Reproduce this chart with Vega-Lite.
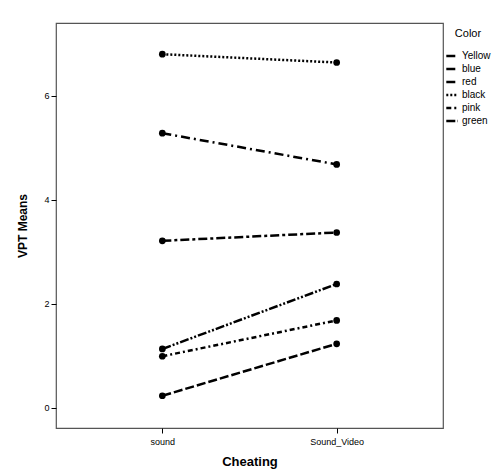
{
  "$schema": "https://vega.github.io/schema/vega-lite/v6.json",
  "autosize": "none",
  "width": 387,
  "height": 405,
  "padding": {"left": 56, "top": 23, "right": 52, "bottom": 45},
  "background": "white",
  "config": {
    "font": "Liberation Sans",
    "view": {"stroke": "#555555", "strokeWidth": 1.2}
  },
  "data": {
    "values": [
      {"Cheating": "sound", "Color": "Yellow", "VPT": 0.23},
      {"Cheating": "Sound_Video", "Color": "Yellow", "VPT": 1.23},
      {"Cheating": "sound", "Color": "blue", "VPT": 3.21},
      {"Cheating": "Sound_Video", "Color": "blue", "VPT": 3.37},
      {"Cheating": "sound", "Color": "red", "VPT": 5.28},
      {"Cheating": "Sound_Video", "Color": "red", "VPT": 4.68},
      {"Cheating": "sound", "Color": "black", "VPT": 6.8},
      {"Cheating": "Sound_Video", "Color": "black", "VPT": 6.64},
      {"Cheating": "sound", "Color": "pink", "VPT": 0.99},
      {"Cheating": "Sound_Video", "Color": "pink", "VPT": 1.68},
      {"Cheating": "sound", "Color": "green", "VPT": 1.13},
      {"Cheating": "Sound_Video", "Color": "green", "VPT": 2.38}
    ]
  },
  "encoding": {
    "x": {
      "field": "Cheating", "type": "nominal", "sort": ["sound", "Sound_Video"],
      "scale": {"type": "point", "padding": 0.61},
      "axis": {
        "title": "Cheating", "titleFontSize": 13, "titleFontWeight": "bold", "titleColor": "black",
        "labelFontSize": 9, "labelColor": "black", "labelAngle": 0, "labelPadding": 4,
        "tickSize": 5, "tickColor": "black", "domain": false, "titlePadding": 9
      }
    },
    "y": {
      "field": "VPT", "type": "quantitative",
      "scale": {"domain": [-0.39, 7.4], "nice": false, "zero": false},
      "axis": {
        "title": "VPT Means", "titleFontSize": 12, "titleFontWeight": "bold", "titleColor": "black",
        "values": [0, 2, 4, 6], "grid": false, "domain": false,
        "labelFontSize": 9, "labelColor": "black", "tickSize": 5, "tickColor": "black",
        "labelPadding": 2, "titlePadding": 14
      }
    }
  },
  "layer": [
    {
      "mark": {"type": "line", "color": "black", "strokeWidth": 2.5},
      "encoding": {
        "strokeDash": {
          "field": "Color", "type": "nominal",
          "scale": {
            "domain": ["Yellow", "blue", "red", "black", "pink", "green"],
            "range": [[9, 3], [9, 3, 3, 3], [9, 4, 2, 4], [2, 2], [5, 3, 2, 3], [9, 2, 2, 2, 2, 2]]
          },
          "legend": {
            "orient": "none", "legendX": 389, "legendY": 5,
            "title": "Color", "titleFontSize": 11, "titleFontWeight": "normal", "titleColor": "black",
            "titleAnchor": "middle", "titleAlign": "center", "titlePadding": 10,
            "labelFontSize": 10, "labelColor": "black", "symbolSize": 130, "symbolStrokeWidth": 2.5,
            "symbolStrokeColor": "black", "rowPadding": 1, "labelOffset": 3, "padding": 0
          }
        }
      }
    },
    {
      "mark": {"type": "point", "filled": true, "color": "black", "size": 45, "opacity": 1}
    }
  ]
}
